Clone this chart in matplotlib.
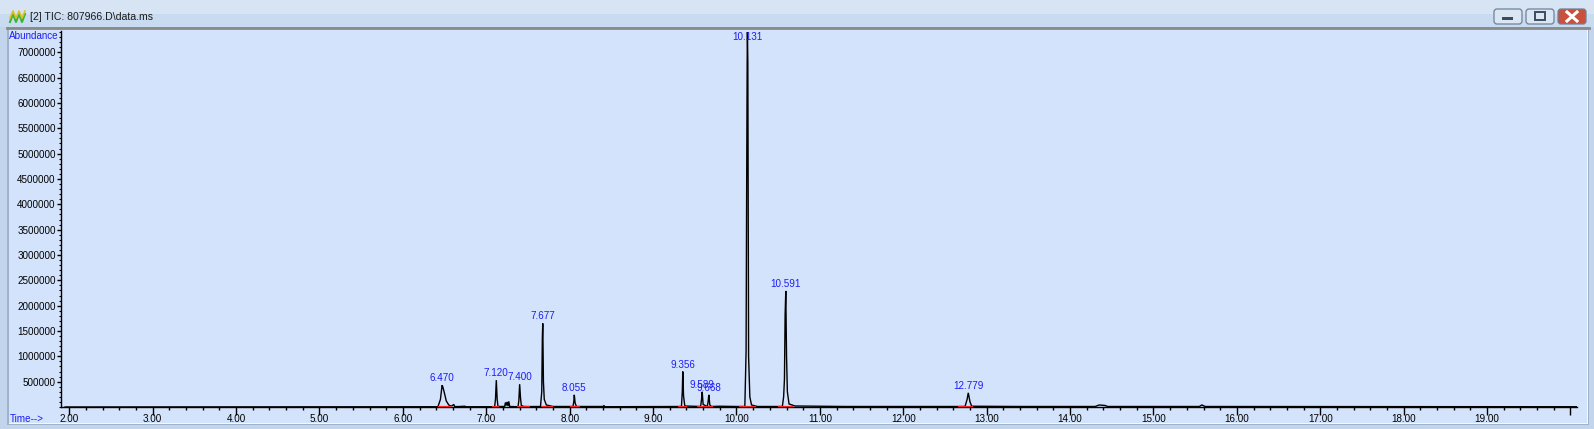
import matplotlib
matplotlib.use('Agg')
import matplotlib.pyplot as plt
from matplotlib.patches import Rectangle, FancyBboxPatch
from matplotlib.ticker import MultipleLocator, FixedLocator

plt.rcParams['font.family'] = ['Liberation Sans', 'DejaVu Sans']

# chromatogram trace vertices (retention time in min, abundance)
trace_t = [1.95, 6.42, 6.45, 6.47, 6.48, 6.50, 6.52, 6.55, 6.58, 6.61, 6.62, 6.66,
           6.74, 6.76, 7.10, 7.11, 7.12, 7.13, 7.14, 7.22, 7.23, 7.24, 7.25, 7.26,
           7.27, 7.28, 7.38, 7.39, 7.40, 7.41, 7.42, 7.45, 7.50, 7.65, 7.665, 7.672,
           7.677, 7.685, 7.695, 7.72, 7.80, 8.04, 8.05, 8.055, 8.065, 8.08, 8.40, 8.41,
           8.42, 9.34, 9.35, 9.356, 9.365, 9.38, 9.57, 9.58, 9.589, 9.60, 9.65, 9.66,
           9.668, 9.68, 9.70, 9.80, 10.00, 10.10, 10.115, 10.122, 10.128, 10.131,
           10.136, 10.145, 10.16, 10.18, 10.25, 10.55, 10.565, 10.575, 10.583, 10.591,
           10.60, 10.61, 10.63, 10.70, 11.30, 12.74, 12.765, 12.779, 12.80, 12.82,
           13.40, 14.30, 14.35, 14.42, 14.45, 15.55, 15.58, 15.62, 20.10]
trace_y = [0, 5e3, 1.5e5, 4.3e5, 3.9e5, 2.6e5, 1.2e5, 4e4, 1.5e4, 5e4, 1e4, 8e3,
           1.5e4, 5e3, 5e3, 1.5e5, 5.3e5, 1.6e5, 1e4, 1e4, 9e4, 3e4, 1e5, 2e4,
           1.1e5, 1e4, 5e3, 1.2e5, 4.5e5, 1.8e5, 3e4, 1e4, 8e3, 1e4, 3e5, 1.36e6,
           1.65e6, 5e5, 1.5e5, 4e4, 1e4, 1e4, 1.2e5, 2.4e5, 8e4, 1e4, 1e4, 3e4,
           5e3, 1e4, 3e5, 7e5, 2.2e5, 2e4, 1e4, 1.4e5, 3e5, 5e4, 1e4, 1.1e5,
           2.4e5, 4e4, 1e4, 1.5e4, 1e4, 1e4, 1.1e6, 4.4e6, 6.8e6, 7.4e6,
           6.8e6, 1.0e6, 2e5, 4e4, 1e4, 1e4, 2e5, 5.5e5, 1.82e6, 2.29e6,
           1.0e6, 3e5, 6e4, 2e4, 1e4, 1e4, 1.5e5, 2.8e5, 1e5, 1.5e4,
           1e4, 1e4, 4e4, 3e4, 1e4, 1e4, 4e4, 1e4, 5e3]

# labelled peaks
peak_rt = [6.470, 7.120, 7.400, 7.677, 8.055, 9.356, 9.589, 9.668, 10.131, 10.591, 12.779]
peak_height = [4.3e5, 5.3e5, 4.5e5, 1.65e6, 2.4e5, 7e5, 3e5, 2.4e5, 7.4e6, 2.29e6, 2.8e5]
peak_labels = ['6.470', '7.120', '7.400', '7.677', '8.055', '9.356', '9.589', '9.668',
               '10.131', '10.591', '12.779']

# integration baselines (start, end)
base_start = [6.42, 7.07, 7.37, 7.65, 8.00, 9.30, 9.53, 9.59, 10.03, 10.50, 12.66]
base_end = [6.59, 7.15, 7.52, 7.80, 8.12, 9.41, 9.57, 9.72, 10.23, 10.68, 12.84]

W, H = 1594, 429
frame_col = '#c2d5ec'
panel_col = '#d3e3fb'
blue = '#1c1cf5'

fig = plt.figure(figsize=(W / 100, H / 100), dpi=100, facecolor=frame_col)

# window chrome drawn in pixel coordinates
bg = fig.add_axes([0, 0, 1, 1])
bg.set_xlim(0, W)
bg.set_ylim(H, 0)
bg.axis('off')
bg.add_patch(Rectangle((0, 0), W, 14, color='#d6e4f4', lw=0))
bg.add_patch(Rectangle((0, 14), W, 13, color='#c9dbf0', lw=0))
bg.add_patch(Rectangle((7, 27), W - 12, H - 31, facecolor='#9eb2c9', lw=0))
bg.add_patch(Rectangle((9, 29), W - 15, H - 34, facecolor='#f4f8fd', lw=0))
bg.add_patch(Rectangle((9, 29), W - 16, H - 35, facecolor=panel_col, lw=0))
bg.plot([7, W - 5], [28, 28], color='#8a8a8a', lw=2)

# title bar icon and text
bg.plot([10, 13, 16, 19, 22, 25], [22, 14, 22, 14, 22, 14], color='#3cb43c', lw=1.5)
bg.plot([10, 13, 16, 19, 22, 25], [18, 11, 18, 11, 18, 11], color='#e0c020', lw=1.2)
bg.text(30, 17, r'[2] TIC: 807966.D\data.ms', fontsize=7.6, va='center', ha='left',
        color='#1a1a1a')

# window buttons
for x0, face in [(1493, '#dbe6f3'), (1525, '#dbe6f3'), (1557, '#c8503c')]:
    bg.add_patch(FancyBboxPatch((x0 + 1, 9), 28, 15, boxstyle='round,pad=0,rounding_size=3',
                                facecolor=face, edgecolor='#6f8099', lw=0.9))
bg.add_patch(Rectangle((1502, 17), 11, 3, facecolor='#3c4c60', lw=0))
bg.add_patch(Rectangle((1535, 12), 10, 8, facecolor='none', edgecolor='#3c4c60', lw=1.4))
bg.plot([1567, 1577], [12, 21], color='white', lw=2.2)
bg.plot([1567, 1577], [21, 12], color='white', lw=2.2)

bg.text(9, 36, 'Abundance', fontsize=7.1, color=blue, va='center', ha='left')
bg.text(10, 419, 'Time-->', fontsize=7.1, color=blue, va='center', ha='left')

# chromatogram axes
ax = fig.add_axes([61 / W, (H - 407) / H, (1577 - 61) / W, (407 - 31) / H])
ax.set_facecolor('none')
ax.set_xlim(1.9005, 20.078)
ax.set_ylim(0, 7.42e6)
for s in ['top', 'right']:
    ax.spines[s].set_visible(False)
for s in ['left', 'bottom']:
    ax.spines[s].set_linewidth(1.0)
    ax.spines[s].set_color('black')

ax.plot(trace_t, trace_y, color='black', lw=1.0, solid_joinstyle='miter')
for a, b in zip(base_start, base_end):
    ax.plot([a, b], [0, 0], color='#ff2020', lw=1.6, solid_capstyle='butt', zorder=3)

for rt, h, lab in zip(peak_rt, peak_height, peak_labels):
    if h > 6.9e6:
        ax.text(rt, 7.3e6, lab, fontsize=7.1, color=blue, ha='center', va='center',
                zorder=4)
    else:
        ax.annotate(lab, xy=(rt, h), xytext=(0, 2), textcoords='offset pixels',
                    fontsize=7.1, color=blue, ha='center', va='bottom', zorder=4)

xt = list(range(2, 21))
ax.xaxis.set_major_locator(FixedLocator(xt))
ax.set_xticklabels([f'{v:.2f}' for v in xt[:-1]] + [''])
ax.xaxis.set_minor_locator(MultipleLocator(0.2))
ax.tick_params(axis='x', which='major', direction='out', length=5.8, width=1,
               labelsize=7.1, pad=-1)
ax.tick_params(axis='x', which='minor', direction='out', length=2.3, width=1)

yt = list(range(500000, 7000001, 500000))
ax.yaxis.set_major_locator(FixedLocator(yt))
ax.set_yticklabels([str(v) for v in yt])
ax.yaxis.set_minor_locator(MultipleLocator(100000))
ax.tick_params(axis='y', which='major', direction='out', length=2.8, width=1,
               labelsize=7.1, pad=1)
ax.tick_params(axis='y', which='minor', direction='out', length=1.2, width=0.8)

fig.savefig('out.png', dpi=100, facecolor=frame_col)
